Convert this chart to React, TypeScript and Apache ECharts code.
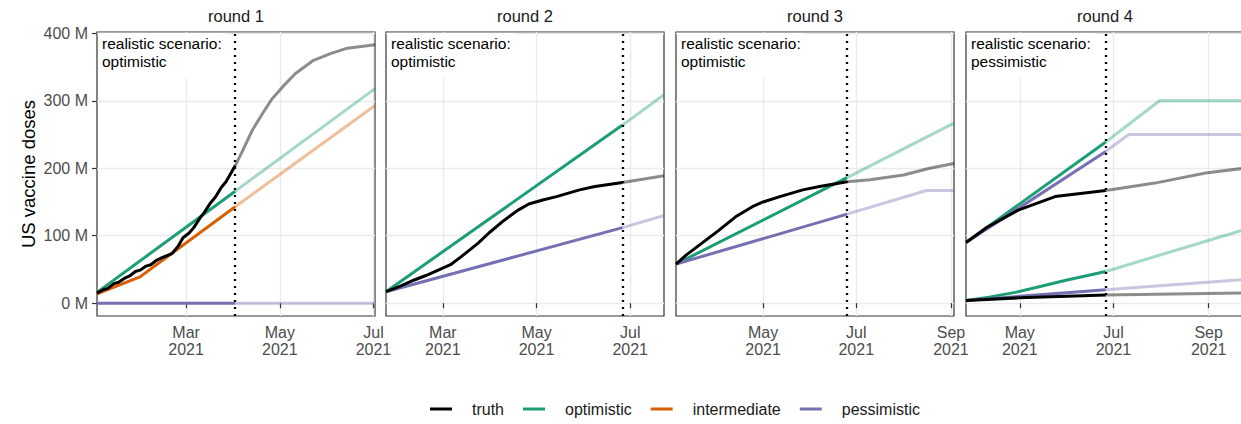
import React, { useEffect, useRef } from 'react';
import * as echarts from 'echarts';

type Pt = [string, number];

// ---------- data ----------
const legendNames = ['truth', 'optimistic', 'intermediate', 'pessimistic'];
const monthNames = ['Jan', 'Feb', 'Mar', 'Apr', 'May', 'Jun', 'Jul', 'Aug', 'Sep', 'Oct', 'Nov', 'Dec'];
const yTicks = [0, 100, 200, 300, 400];

// round 1
const r1Range = ['2021-01-02', '2021-07-02'];
const r1Cutoff = '2021-04-02';
const r1Ticks = ['2021-03-01', '2021-05-01', '2021-07-01'];
const r1Truth: Pt[] = [
  ['2021-01-02', 15], ['2021-01-06', 20], ['2021-01-09', 22], ['2021-01-13', 29], ['2021-01-16', 31],
  ['2021-01-20', 37], ['2021-01-23', 40], ['2021-01-27', 47], ['2021-01-30', 49], ['2021-02-03', 55],
  ['2021-02-06', 57], ['2021-02-10', 64], ['2021-02-13', 67], ['2021-02-17', 71], ['2021-02-20', 74],
  ['2021-02-24', 85], ['2021-02-27', 97], ['2021-03-03', 104], ['2021-03-06', 112], ['2021-03-10', 126],
  ['2021-03-13', 135], ['2021-03-17', 149], ['2021-03-20', 157], ['2021-03-24', 172], ['2021-03-27', 180],
  ['2021-03-31', 196], ['2021-04-02', 204],
  ['2021-04-07', 227], ['2021-04-13', 256], ['2021-04-20', 282], ['2021-04-26', 303], ['2021-05-03', 321],
  ['2021-05-11', 340], ['2021-05-23', 360], ['2021-06-03', 370], ['2021-06-14', 378], ['2021-07-02', 383],
];
const r1Optimistic: Pt[] = [['2021-01-02', 16], ['2021-04-02', 166], ['2021-07-02', 318]];
const r1Intermediate: Pt[] = [['2021-01-02', 14], ['2021-01-30', 39], ['2021-04-02', 143], ['2021-07-02', 293]];
const r1Pessimistic: Pt[] = [['2021-01-02', 0], ['2021-04-02', 0], ['2021-07-02', 0]];

// round 2
const r2Range = ['2021-01-23', '2021-07-23'];
const r2Cutoff = '2021-06-26';
const r2Ticks = ['2021-03-01', '2021-05-01', '2021-07-01'];
const r2Truth: Pt[] = [
  ['2021-01-23', 17], ['2021-02-01', 25], ['2021-02-10', 34], ['2021-02-18', 41], ['2021-02-26', 49],
  ['2021-03-06', 57], ['2021-03-13', 69], ['2021-03-24', 89], ['2021-03-31', 104], ['2021-04-10', 123],
  ['2021-04-19', 138], ['2021-04-26', 147], ['2021-05-05', 153], ['2021-05-14', 158], ['2021-05-29', 168],
  ['2021-06-08', 173], ['2021-06-26', 179], ['2021-07-10', 184], ['2021-07-23', 189],
];
const r2Optimistic: Pt[] = [['2021-01-23', 17], ['2021-06-26', 264], ['2021-07-23', 309]];
const r2Pessimistic: Pt[] = [['2021-01-23', 17], ['2021-06-26', 112], ['2021-07-23', 130]];

// round 3
const r3Range = ['2021-03-05', '2021-09-03'];
const r3Cutoff = '2021-06-25';
const r3Ticks = ['2021-05-01', '2021-07-01', '2021-09-01'];
const r3Truth: Pt[] = [
  ['2021-03-05', 58], ['2021-03-12', 72], ['2021-03-22', 89], ['2021-04-02', 108], ['2021-04-13', 128],
  ['2021-04-24', 143], ['2021-05-01', 150], ['2021-05-12', 158], ['2021-05-27', 168], ['2021-06-07', 173],
  ['2021-06-25', 180], ['2021-07-10', 183], ['2021-08-01', 190], ['2021-08-18', 200], ['2021-09-03', 207],
];
const r3Optimistic: Pt[] = [['2021-03-05', 58], ['2021-06-25', 186], ['2021-09-03', 267]];
const r3Pessimistic: Pt[] = [['2021-03-05', 58], ['2021-06-25', 132], ['2021-08-16', 167], ['2021-09-03', 167]];

// round 4
const r4Range = ['2021-03-27', '2021-09-24'];
const r4Cutoff = '2021-06-26';
const r4Ticks = ['2021-05-01', '2021-07-01', '2021-09-01'];
const r4Truth: Pt[] = [
  ['2021-03-27', 90], ['2021-04-10', 113], ['2021-04-30', 138], ['2021-05-24', 158], ['2021-06-26', 167],
  ['2021-07-28', 178], ['2021-08-30', 193], ['2021-09-24', 200],
];
const r4Optimistic: Pt[] = [['2021-03-27', 90], ['2021-06-26', 239], ['2021-07-31', 300], ['2021-09-24', 300]];
const r4Pessimistic: Pt[] = [['2021-03-27', 90], ['2021-06-26', 225], ['2021-07-11', 250], ['2021-09-24', 250]];
const r4TruthLow: Pt[] = [['2021-03-27', 4], ['2021-05-01', 8], ['2021-06-26', 12], ['2021-09-24', 15]];
const r4OptimisticLow: Pt[] = [
  ['2021-03-27', 4], ['2021-04-11', 9], ['2021-04-28', 16], ['2021-05-15', 25], ['2021-05-31', 34],
  ['2021-06-12', 40], ['2021-06-26', 47], ['2021-09-24', 109],
];
const r4PessimisticLow: Pt[] = [['2021-03-27', 4], ['2021-06-26', 20], ['2021-09-24', 35]];

const roundTitles = ['round 1', 'round 2', 'round 3', 'round 4'];
const realisticScenarios = ['optimistic', 'optimistic', 'optimistic', 'pessimistic'];

// ---------- styling / layout ----------
const FONT = '"Liberation Sans", Arial, Helvetica, sans-serif';
const COLORS: Record<string, string> = {
  truth: '#000000',
  optimistic: '#1B9E77',
  intermediate: '#D95F02',
  pessimistic: '#7570B3',
};
const GRID_LEFTS = [97, 386, 676, 966];
const GRID_TOP = 32;
const GRID_W = 278;
const GRID_H = 284;
const LINE_W = 3;

const ts = (s: string) => Date.parse(s + 'T00:00:00Z');

interface Panel {
  range: string[];
  cutoff: string;
  ticks: string[];
  lines: { name: string; data: Pt[] }[];
}

const panels: Panel[] = [
  {
    range: r1Range, cutoff: r1Cutoff, ticks: r1Ticks,
    lines: [
      { name: 'optimistic', data: r1Optimistic },
      { name: 'intermediate', data: r1Intermediate },
      { name: 'pessimistic', data: r1Pessimistic },
      { name: 'truth', data: r1Truth },
    ],
  },
  {
    range: r2Range, cutoff: r2Cutoff, ticks: r2Ticks,
    lines: [
      { name: 'optimistic', data: r2Optimistic },
      { name: 'pessimistic', data: r2Pessimistic },
      { name: 'truth', data: r2Truth },
    ],
  },
  {
    range: r3Range, cutoff: r3Cutoff, ticks: r3Ticks,
    lines: [
      { name: 'optimistic', data: r3Optimistic },
      { name: 'pessimistic', data: r3Pessimistic },
      { name: 'truth', data: r3Truth },
    ],
  },
  {
    range: r4Range, cutoff: r4Cutoff, ticks: r4Ticks,
    lines: [
      { name: 'optimistic', data: r4Optimistic },
      { name: 'pessimistic', data: r4Pessimistic },
      { name: 'optimistic', data: r4OptimisticLow },
      { name: 'pessimistic', data: r4PessimisticLow },
      { name: 'truth', data: r4Truth },
      { name: 'truth', data: r4TruthLow },
    ],
  },
];

function buildOption(): any {
  const solid: any[] = [];
  const faded: any[] = [];
  panels.forEach((p, i) => {
    const cut = ts(p.cutoff);
    let markAdded = false;
    p.lines.forEach((l) => {
      const pts = l.data.map(([d, v]) => [ts(d), v]);
      const before = pts.filter((q) => q[0] <= cut);
      const after = pts.filter((q) => q[0] >= cut);
      const color = COLORS[l.name];
      const base = {
        type: 'line',
        name: l.name,
        xAxisIndex: i,
        yAxisIndex: i,
        symbol: 'none',
        showSymbol: false,
        silent: true,
        color,
        itemStyle: { color },
      };
      const s: any = {
        ...base,
        data: before,
        z: l.name === 'truth' ? 4 : 3,
        lineStyle: { color, width: LINE_W, opacity: 1 },
      };
      if (l.name === 'truth' && !markAdded) {
        markAdded = true;
        s.markLine = {
          silent: true,
          symbol: ['none', 'none'],
          label: { show: false },
          lineStyle: { color: '#000', type: [2, 5], width: 2.3, opacity: 1 },
          emphasis: { disabled: true },
          data: [{ xAxis: cut }],
        };
      }
      solid.push(s);
      faded.push({
        ...base,
        data: after,
        z: 2,
        lineStyle: { color, width: LINE_W, opacity: l.name === 'truth' ? 0.45 : 0.4 },
      });
    });
  });

  const graphic: any[] = [];
  GRID_LEFTS.forEach((left, i) => {
    graphic.push({
      type: 'text',
      x: left + GRID_W / 2,
      y: 16,
      silent: true,
      style: {
        text: roundTitles[i],
        fontSize: 16.5,
        fontFamily: FONT,
        fill: '#1a1a1a',
        align: 'center',
        verticalAlign: 'middle',
      },
    });
    graphic.push({
      type: 'text',
      x: left + 1,
      y: GRID_TOP + 1,
      z: 50,
      silent: true,
      style: {
        text: 'realistic scenario:\n' + realisticScenarios[i],
        fontSize: 15.5,
        lineHeight: 18.5,
        fontFamily: FONT,
        fill: '#000',
        backgroundColor: '#ffffff',
        padding: [1, 4, 7, 4],
        align: 'left',
        verticalAlign: 'top',
      },
    });
  });
  graphic.push({
    type: 'text',
    x: 28,
    y: GRID_TOP + GRID_H / 2,
    rotation: Math.PI / 2,
    silent: true,
    style: {
      text: 'US vaccine doses',
      fontSize: 18.5,
      fontFamily: FONT,
      fill: '#000',
      align: 'center',
      verticalAlign: 'middle',
    },
  });

  return {
    animation: false,
    backgroundColor: '#ffffff',
    textStyle: { fontFamily: FONT },
    grid: GRID_LEFTS.map((left) => ({
      left,
      top: GRID_TOP,
      width: GRID_W,
      height: GRID_H,
      show: true,
      borderColor: '#333333',
      borderWidth: 1.2,
      backgroundColor: 'transparent',
      containLabel: false,
      outerBoundsMode: 'none',
    })),
    xAxis: panels.map((p, i) => ({
      type: 'value',
      gridIndex: i,
      min: ts(p.range[0]),
      max: ts(p.range[1]),
      axisLine: { show: false },
      axisTick: {
        show: true,
        length: 5,
        lineStyle: { color: '#333333', width: 1.2 },
        customValues: p.ticks.map(ts),
      },
      axisLabel: {
        customValues: p.ticks.map(ts),
        formatter: (v: number) => {
          const d = new Date(v);
          return monthNames[d.getUTCMonth()] + '\n' + d.getUTCFullYear();
        },
        color: '#4d4d4d',
        fontSize: 16,
        lineHeight: 17,
        margin: 8,
        fontFamily: FONT,
      },
      splitLine: { show: true, lineStyle: { color: '#ebebeb', width: 1.4 } },
    })),
    yAxis: panels.map((p, i) => ({
      type: 'value',
      gridIndex: i,
      min: -19,
      max: 402,
      axisLine: { show: false },
      axisTick: {
        show: i === 0,
        length: 5,
        lineStyle: { color: '#333333', width: 1.2 },
        customValues: yTicks,
      },
      axisLabel: {
        show: i === 0,
        customValues: yTicks,
        formatter: (v: number) => v + ' M',
        color: '#4d4d4d',
        fontSize: 16,
        margin: 9,
        fontFamily: FONT,
      },
      splitLine: { show: true, lineStyle: { color: '#ebebeb', width: 1.4 } },
    })),
    legend: {
      data: legendNames,
      left: 430,
      top: 401,
      orient: 'horizontal',
      icon: 'rect',
      itemWidth: 22,
      itemHeight: 3,
      itemGap: 19,
      padding: 0,
      selectedMode: false,
      textStyle: { fontSize: 16, color: '#1a1a1a', padding: [0, 0, 0, 15], lineHeight: 16, fontFamily: FONT },
    },
    graphic,
    series: [...faded, ...solid],
  };
}

export default function App() {
  const ref = useRef<HTMLDivElement>(null);
  useEffect(() => {
    if (!ref.current) return;
    const chart = echarts.init(ref.current, undefined, { renderer: 'svg' });
    chart.setOption(buildOption());
    return () => chart.dispose();
  }, []);
  return (
    <div
      ref={ref}
      style={{ position: 'fixed', left: 0, top: 0, width: 1241, height: 424, background: '#fff' }}
    />
  );
}
